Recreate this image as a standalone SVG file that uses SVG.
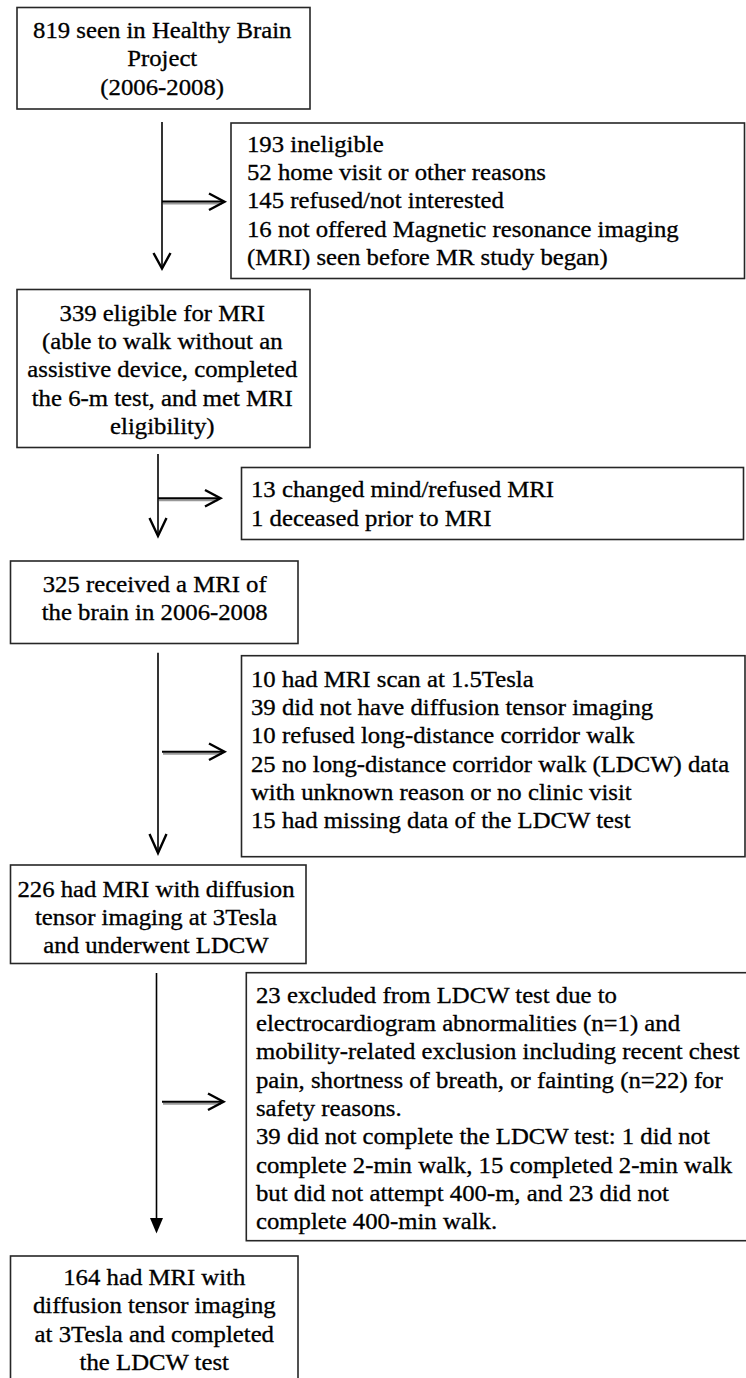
<svg xmlns="http://www.w3.org/2000/svg" width="746" height="1378" viewBox="0 0 746 1378">
<style>
.box{fill:#fff;stroke:#262626;stroke-width:1.6}
.t{font-family:"Liberation Serif","Times New Roman",serif;font-size:22.3px;fill:#000;stroke:#000;stroke-width:0.3}
.c{text-anchor:middle}
.ln{stroke:#000;stroke-width:1.6;fill:none}
.hd{stroke:#000;stroke-width:2.4;fill:none;stroke-linejoin:miter}
.sh{stroke:#999;stroke-width:2;fill:none}
.sk{stroke:#000;stroke-width:2;fill:none}
</style>
<rect width="746" height="1378" fill="#fff"/>
<g id="connectors">
<line class="ln" x1="162" y1="122" x2="162" y2="267"/>
<polyline class="hd" points="153.5,253 162,268.5 170.5,253"/>
<line class="sh" x1="163" y1="203.5" x2="222" y2="203.5"/>
<line class="sk" x1="162" y1="201.5" x2="223" y2="201.5"/>
<polyline class="hd" points="209,193.5 224.5,201.7 209,210"/>

<line class="ln" x1="158" y1="454" x2="158" y2="535"/>
<polyline class="hd" points="149.5,518 158,536 166.5,518"/>
<line class="sh" x1="159" y1="500.3" x2="218" y2="500.3"/>
<line class="sk" x1="158" y1="498.3" x2="219" y2="498.3"/>
<polyline class="hd" points="205,490 220.5,498.3 205,506.5"/>

<line class="ln" x1="158" y1="652.7" x2="158" y2="852"/>
<polyline class="hd" points="149.5,834 158,853 166.5,834"/>
<line class="sh" x1="163" y1="753.7" x2="222" y2="753.7"/>
<line class="sk" x1="162" y1="751.7" x2="223" y2="751.7"/>
<polyline class="hd" points="209,743.5 224.5,751.7 209,760"/>

<line class="ln" x1="156.5" y1="973" x2="156.5" y2="1220"/>
<polygon points="150,1218 163,1218 156.5,1233.5" fill="#000"/>
<line class="sh" x1="163" y1="1103.7" x2="221" y2="1103.7"/>
<line class="sk" x1="162" y1="1101.7" x2="222" y2="1101.7"/>
<polyline class="hd" points="208,1093.5 223.5,1101.7 208,1110"/>
</g>

<g id="n1">
<rect class="box" x="17" y="7.5" width="293" height="101.5"/>
<g transform="scale(1.11 1)">
<text class="t c" x="146.13" y="38">819 seen in Healthy Brain</text>
<text class="t c" x="146.13" y="66.5">Project</text>
<text class="t c" x="146.13" y="95">(2006-2008)</text>
</g>
</g>

<g id="x1">
<rect class="box" x="231" y="123" width="513.5" height="155.5"/>
<g transform="scale(1.11 1)">
<text class="t" x="222.52" y="151.7">193 ineligible</text>
<text class="t" x="222.52" y="180">52 home visit or other reasons</text>
<text class="t" x="222.52" y="208.3">145 refused/not interested</text>
<text class="t" x="222.52" y="236.7">16 not offered Magnetic resonance imaging</text>
<text class="t" x="222.52" y="265">(MRI) seen before MR study began)</text>
</g>
</g>

<g id="n2">
<rect class="box" x="17" y="289.5" width="293" height="158"/>
<g transform="scale(1.11 1)">
<text class="t c" x="146.22" y="320.7">339 eligible for MRI</text>
<text class="t c" x="146.22" y="349">(able to walk without an</text>
<text class="t c" x="146.22" y="377.3">assistive device, completed</text>
<text class="t c" x="146.22" y="405.6">the 6-m test, and met MRI</text>
<text class="t c" x="146.22" y="434">eligibility)</text>
</g>
</g>

<g id="x2">
<rect class="box" x="241.5" y="467.5" width="502" height="72"/>
<g transform="scale(1.11 1)">
<text class="t" x="226.13" y="497.3">13 changed mind/refused MRI</text>
<text class="t" x="226.13" y="525.7">1 deceased prior to MRI</text>
</g>
</g>

<g id="n3">
<rect class="box" x="10.5" y="561" width="287.5" height="82.5"/>
<g transform="scale(1.11 1)">
<text class="t c" x="139.37" y="591.7">325 received a MRI of</text>
<text class="t c" x="139.37" y="620.3">the brain in 2006-2008</text>
</g>
</g>

<g id="x3">
<rect class="box" x="241.5" y="655.7" width="503.5" height="201"/>
<g transform="scale(1.11 1)">
<text class="t" x="226.13" y="686.7">10 had MRI scan at 1.5Tesla</text>
<text class="t" x="226.13" y="715">39 did not have diffusion tensor imaging</text>
<text class="t" x="226.13" y="743.3">10 refused long-distance corridor walk</text>
<text class="t" x="226.13" y="771.7">25 no long-distance corridor walk (LDCW) data</text>
<text class="t" x="226.13" y="800">with unknown reason or no clinic visit</text>
<text class="t" x="226.13" y="828.3">15 had missing data of the LDCW test</text>
</g>
</g>

<g id="n4">
<rect class="box" x="10.5" y="865" width="295.5" height="98.5"/>
<g transform="scale(1.11 1)">
<text class="t c" x="140.54" y="896.7">226 had MRI with diffusion</text>
<text class="t c" x="140.54" y="925">tensor imaging at 3Tesla</text>
<text class="t c" x="140.54" y="953.3">and underwent LDCW</text>
</g>
</g>

<g id="x4">
<rect class="box" x="246.3" y="972.7" width="503" height="268"/>
<g transform="scale(1.11 1)">
<text class="t" x="230.63" y="1002.7">23 excluded from LDCW test due to</text>
<text class="t" x="230.63" y="1031">electrocardiogram abnormalities (n=1) and</text>
<text class="t" x="230.63" y="1059.3">mobility-related exclusion including recent chest</text>
<text class="t" x="230.63" y="1087.7">pain, shortness of breath, or fainting (n=22) for</text>
<text class="t" x="230.63" y="1116">safety reasons.</text>
<text class="t" x="230.63" y="1144.3">39 did not complete the LDCW test: 1 did not</text>
<text class="t" x="230.63" y="1172.7">complete 2-min walk, 15 completed 2-min walk</text>
<text class="t" x="230.63" y="1201">but did not attempt 400-m, and 23 did not</text>
<text class="t" x="230.63" y="1229.3">complete 400-min walk.</text>
</g>
</g>

<g id="n5">
<rect class="box" x="10.5" y="1256" width="287.5" height="130"/>
<g transform="scale(1.11 1)">
<text class="t c" x="139.01" y="1285">164 had MRI with</text>
<text class="t c" x="139.01" y="1313.3">diffusion tensor imaging</text>
<text class="t c" x="139.01" y="1341.7">at 3Tesla and completed</text>
<text class="t c" x="139.01" y="1370">the LDCW test</text>
</g>
</g>
</svg>
